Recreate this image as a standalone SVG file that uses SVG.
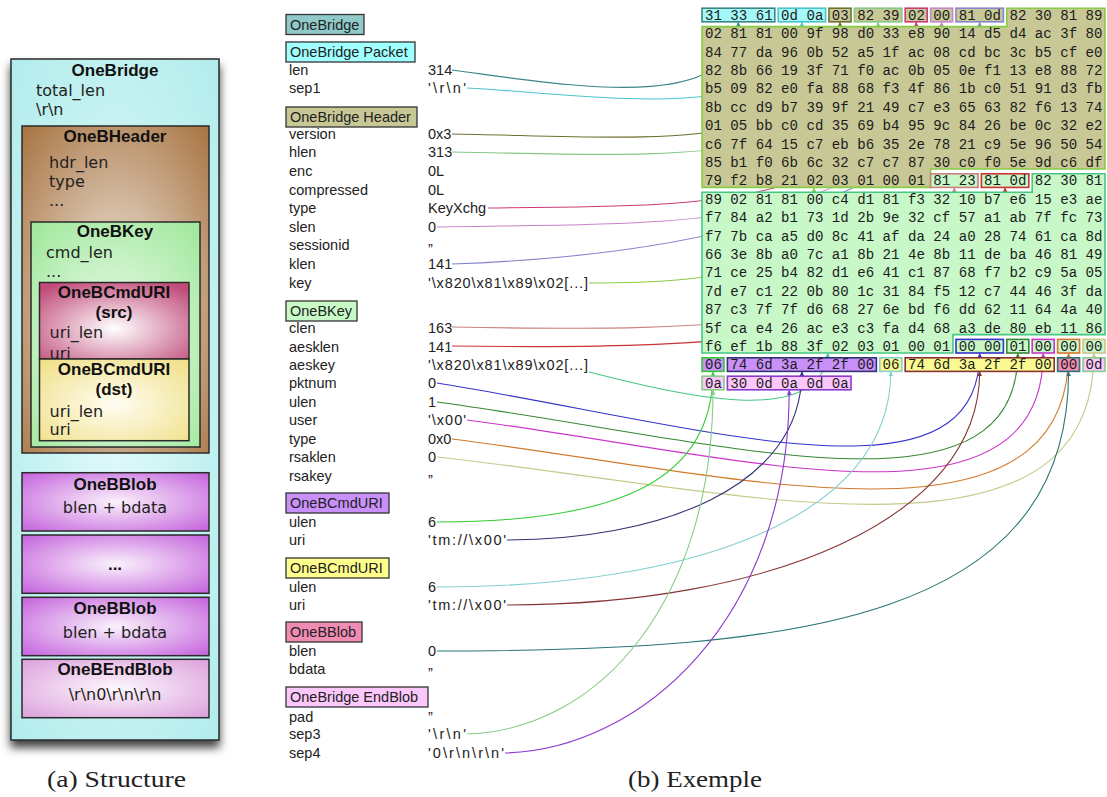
<svg xmlns="http://www.w3.org/2000/svg" width="1107" height="797" viewBox="0 0 1107 797">
<style>
  .ttl{font-family:"Liberation Sans",Arial,sans-serif;font-weight:bold;font-size:17px;text-anchor:middle;fill:#111}
  .bd{font-family:"DejaVu Sans",sans-serif;font-size:16px;fill:#222}
  .bdc{font-family:"DejaVu Sans",sans-serif;font-size:16px;fill:#222;text-anchor:middle}
  .frame{stroke:#2a2a2a;stroke-width:1.5}
  .lbl{font-family:"Liberation Sans",Arial,sans-serif;font-size:14.5px;fill:#222}
  .tag{stroke:#333;stroke-width:1.3}
  .hx{font-family:"Liberation Mono","Courier New",monospace;font-size:14.1px;fill:#1c1c1c}
  .hb{stroke-width:1.6}
  .olive{fill:#c8c896}.grn{fill:#c8f8c8}.cyn{fill:#a4f8f8}.pur{fill:#c890f8}
  .yel{fill:#fafa90}.pnk{fill:#f08cb4}.lpk{fill:#fcc8fc}
  .cap{font-family:"Liberation Serif","Times New Roman",serif;font-size:24px;fill:#222}
  .c{fill:none;stroke-width:1.1}
</style>
<defs>
  <filter id="shadow" x="-10%" y="-5%" width="120%" height="115%">
    <feDropShadow dx="0" dy="7" stdDeviation="5" flood-color="#000" flood-opacity="0.75"/>
  </filter>
  <radialGradient id="gOuter" cx="0.5" cy="0.5" r="0.7"><stop offset="0" stop-color="#e2fafa"/><stop offset="1" stop-color="#b2ecec"/></radialGradient>
  <radialGradient id="gHead" cx="0.5" cy="0.55" r="0.75"><stop offset="0" stop-color="#f2ebe4"/><stop offset="1" stop-color="#a6723f"/></radialGradient>
  <radialGradient id="gKey" cx="0.5" cy="0.55" r="0.7"><stop offset="0" stop-color="#f2fdf2"/><stop offset="1" stop-color="#a2e89e"/></radialGradient>
  <radialGradient id="gSrc" cx="0.5" cy="0.6" r="0.7"><stop offset="0" stop-color="#ffffff"/><stop offset="1" stop-color="#c04a78"/></radialGradient>
  <radialGradient id="gDst" cx="0.5" cy="0.55" r="0.7"><stop offset="0" stop-color="#fffdf2"/><stop offset="1" stop-color="#f0e08a"/></radialGradient>
  <radialGradient id="gBlob" cx="0.5" cy="0.5" r="0.7"><stop offset="0" stop-color="#faf2fc"/><stop offset="1" stop-color="#c462dc"/></radialGradient>
  <radialGradient id="gEnd" cx="0.5" cy="0.5" r="0.7"><stop offset="0" stop-color="#fdf8fd"/><stop offset="1" stop-color="#dca0dc"/></radialGradient>

  <marker id="a-len" viewBox="0 0 6 6" refX="6" refY="3" markerWidth="5" markerHeight="5" markerUnits="userSpaceOnUse" orient="auto"><path d="M0,0L6,3L0,6z" fill="#3a8585"/></marker>
  <marker id="a-sep1" viewBox="0 0 6 6" refX="6" refY="3" markerWidth="5" markerHeight="5" markerUnits="userSpaceOnUse" orient="auto"><path d="M0,0L6,3L0,6z" fill="#4cc4cc"/></marker>
  <marker id="a-ver" viewBox="0 0 6 6" refX="6" refY="3" markerWidth="5" markerHeight="5" markerUnits="userSpaceOnUse" orient="auto"><path d="M0,0L6,3L0,6z" fill="#6f6f2f"/></marker>
  <marker id="a-hlen" viewBox="0 0 6 6" refX="6" refY="3" markerWidth="5" markerHeight="5" markerUnits="userSpaceOnUse" orient="auto"><path d="M0,0L6,3L0,6z" fill="#86c886"/></marker>
  <marker id="a-type" viewBox="0 0 6 6" refX="6" refY="3" markerWidth="5" markerHeight="5" markerUnits="userSpaceOnUse" orient="auto"><path d="M0,0L6,3L0,6z" fill="#cc3a78"/></marker>
  <marker id="a-slen" viewBox="0 0 6 6" refX="6" refY="3" markerWidth="5" markerHeight="5" markerUnits="userSpaceOnUse" orient="auto"><path d="M0,0L6,3L0,6z" fill="#c985c9"/></marker>
  <marker id="a-klen" viewBox="0 0 6 6" refX="6" refY="3" markerWidth="5" markerHeight="5" markerUnits="userSpaceOnUse" orient="auto"><path d="M0,0L6,3L0,6z" fill="#8585cc"/></marker>
  <marker id="a-key" viewBox="0 0 6 6" refX="6" refY="3" markerWidth="5" markerHeight="5" markerUnits="userSpaceOnUse" orient="auto"><path d="M0,0L6,3L0,6z" fill="#88cc44"/></marker>
  <marker id="a-clen" viewBox="0 0 6 6" refX="6" refY="3" markerWidth="5" markerHeight="5" markerUnits="userSpaceOnUse" orient="auto"><path d="M0,0L6,3L0,6z" fill="#cc8080"/></marker>
  <marker id="a-aesklen" viewBox="0 0 6 6" refX="6" refY="3" markerWidth="5" markerHeight="5" markerUnits="userSpaceOnUse" orient="auto"><path d="M0,0L6,3L0,6z" fill="#cc3333"/></marker>
  <marker id="a-aeskey" viewBox="0 0 6 6" refX="6" refY="3" markerWidth="5" markerHeight="5" markerUnits="userSpaceOnUse" orient="auto"><path d="M0,0L6,3L0,6z" fill="#44c884"/></marker>
  <marker id="a-pkt" viewBox="0 0 6 6" refX="6" refY="3" markerWidth="5" markerHeight="5" markerUnits="userSpaceOnUse" orient="auto"><path d="M0,0L6,3L0,6z" fill="#3333cc"/></marker>
  <marker id="a-ulen" viewBox="0 0 6 6" refX="6" refY="3" markerWidth="5" markerHeight="5" markerUnits="userSpaceOnUse" orient="auto"><path d="M0,0L6,3L0,6z" fill="#338833"/></marker>
  <marker id="a-user" viewBox="0 0 6 6" refX="6" refY="3" markerWidth="5" markerHeight="5" markerUnits="userSpaceOnUse" orient="auto"><path d="M0,0L6,3L0,6z" fill="#cc33cc"/></marker>
  <marker id="a-ktype" viewBox="0 0 6 6" refX="6" refY="3" markerWidth="5" markerHeight="5" markerUnits="userSpaceOnUse" orient="auto"><path d="M0,0L6,3L0,6z" fill="#d07a2a"/></marker>
  <marker id="a-rsa" viewBox="0 0 6 6" refX="6" refY="3" markerWidth="5" markerHeight="5" markerUnits="userSpaceOnUse" orient="auto"><path d="M0,0L6,3L0,6z" fill="#c8c88a"/></marker>
  <marker id="a-ulen1" viewBox="0 0 6 6" refX="6" refY="3" markerWidth="5" markerHeight="5" markerUnits="userSpaceOnUse" orient="auto"><path d="M0,0L6,3L0,6z" fill="#33cc33"/></marker>
  <marker id="a-uri1" viewBox="0 0 6 6" refX="6" refY="3" markerWidth="5" markerHeight="5" markerUnits="userSpaceOnUse" orient="auto"><path d="M0,0L6,3L0,6z" fill="#333377"/></marker>
  <marker id="a-ulen2" viewBox="0 0 6 6" refX="6" refY="3" markerWidth="5" markerHeight="5" markerUnits="userSpaceOnUse" orient="auto"><path d="M0,0L6,3L0,6z" fill="#88d0d0"/></marker>
  <marker id="a-uri2" viewBox="0 0 6 6" refX="6" refY="3" markerWidth="5" markerHeight="5" markerUnits="userSpaceOnUse" orient="auto"><path d="M0,0L6,3L0,6z" fill="#883333"/></marker>
  <marker id="a-blen" viewBox="0 0 6 6" refX="6" refY="3" markerWidth="5" markerHeight="5" markerUnits="userSpaceOnUse" orient="auto"><path d="M0,0L6,3L0,6z" fill="#2a7575"/></marker>
  <marker id="a-sep3" viewBox="0 0 6 6" refX="6" refY="3" markerWidth="5" markerHeight="5" markerUnits="userSpaceOnUse" orient="auto"><path d="M0,0L6,3L0,6z" fill="#88cc88"/></marker>
  <marker id="a-sep4" viewBox="0 0 6 6" refX="6" refY="3" markerWidth="5" markerHeight="5" markerUnits="userSpaceOnUse" orient="auto"><path d="M0,0L6,3L0,6z" fill="#8a3acc"/></marker>
</defs>

<rect width="1107" height="797" fill="#ffffff"/>

<!-- (a) nested structure -->
<g id="onebridge">
  <rect class="frame" x="11" y="59" width="208" height="681" fill="url(#gOuter)" filter="url(#shadow)"/>
  <text class="ttl" x="115" y="76">OneBridge</text>
  <text class="bd" x="36" y="96">total_len</text>
  <text class="bd" x="36" y="115">\r\n</text>
</g>
<g id="onebheader">
  <rect class="frame" x="22" y="126" width="187" height="327" fill="url(#gHead)"/>
  <text class="ttl" x="115" y="142">OneBHeader</text>
  <text class="bd" x="49" y="168">hdr_len</text>
  <text class="bd" x="49" y="187">type</text>
  <text class="bd" x="49" y="206">...</text>
</g>
<g id="onebkey">
  <rect class="frame" x="31" y="222" width="169" height="225" fill="url(#gKey)"/>
  <text class="ttl" x="115" y="237">OneBKey</text>
  <text class="bd" x="46" y="258">cmd_len</text>
  <text class="bd" x="46" y="277">...</text>
</g>
<g id="cmduri-src">
  <rect class="frame" x="39.5" y="282.5" width="149.5" height="76.5" fill="url(#gSrc)"/>
  <text class="ttl" x="114" y="298">OneBCmdURI</text>
  <text class="ttl" x="114" y="318">(src)</text>
  <text class="bd" x="49.5" y="338">uri_len</text>
  <text class="bd" x="49.5" y="359">uri</text>
</g>
<g id="cmduri-dst">
  <rect class="frame" x="39.5" y="359" width="149.5" height="81.7" fill="url(#gDst)"/>
  <text class="ttl" x="114" y="375">OneBCmdURI</text>
  <text class="ttl" x="114" y="395">(dst)</text>
  <text class="bd" x="49.5" y="416.5">uri_len</text>
  <text class="bd" x="49.5" y="435">uri</text>
</g>
<g id="blob-first">
  <rect class="frame" x="22" y="472.7" width="187" height="58.3" fill="url(#gBlob)"/>
  <text class="ttl" x="115" y="489.5">OneBBlob</text>
  <text class="bdc" x="115" y="513">blen + bdata</text>
</g>
<g id="blob-more">
  <rect class="frame" x="22" y="535" width="187" height="58.3" fill="url(#gBlob)"/>
  <text class="ttl" x="115" y="570">...</text>
</g>
<g id="blob-last">
  <rect class="frame" x="22" y="597.3" width="187" height="58.4" fill="url(#gBlob)"/>
  <text class="ttl" x="115" y="613.5">OneBBlob</text>
  <text class="bdc" x="115" y="637.5">blen + bdata</text>
</g>
<g id="onebendblob">
  <rect class="frame" x="22" y="659.3" width="187" height="58.4" fill="url(#gEnd)"/>
  <text class="ttl" x="115" y="675">OneBEndBlob</text>
  <text class="bdc" x="115" y="699.5">\r\n0\r\n\r\n</text>
</g>

<g id="captions">
  <text class="cap" x="47" y="787" textLength="139" lengthAdjust="spacingAndGlyphs">(a) Structure</text>
  <text class="cap" x="628" y="787" textLength="134" lengthAdjust="spacingAndGlyphs">(b) Exemple</text>
</g>

<!-- (b) decoded fields -->
<g id="tag-onebridge"><rect class="tag" x="286" y="14.5" width="78" height="20" fill="#8fc9c9"/><text class="lbl" x="290" y="29.5">OneBridge</text></g>
<g id="fields-packet">
  <rect class="tag" x="286" y="42" width="129" height="20" fill="#a0ffff"/><text class="lbl" x="290" y="57">OneBridge Packet</text>
  <text class="lbl" x="289" y="75">len</text><text class="lbl" x="428" y="75">314</text>
  <text class="lbl" x="289" y="93">sep1</text><text class="lbl" x="428" y="93" textLength="38">'\r\n'</text>
</g>
<g id="fields-header">
  <rect class="tag" x="286" y="107" width="131" height="20" fill="#c8c896"/><text class="lbl" x="290" y="122">OneBridge Header</text>
  <text class="lbl" x="289" y="139">version</text><text class="lbl" x="428" y="139">0x3</text>
  <text class="lbl" x="289" y="157">hlen</text><text class="lbl" x="428" y="157">313</text>
  <text class="lbl" x="289" y="176">enc</text><text class="lbl" x="428" y="176">0L</text>
  <text class="lbl" x="289" y="195">compressed</text><text class="lbl" x="428" y="195">0L</text>
  <text class="lbl" x="289" y="213">type</text><text class="lbl" x="428" y="213">KeyXchg</text>
  <text class="lbl" x="289" y="232">slen</text><text class="lbl" x="428" y="232">0</text>
  <text class="lbl" x="289" y="250">sessionid</text><text class="lbl" x="428" y="254">”</text>
  <text class="lbl" x="289" y="269">klen</text><text class="lbl" x="428" y="269">141</text>
  <text class="lbl" x="289" y="288">key</text><text class="lbl" x="428" y="288" textLength="160">'\x820\x81\x89\x02[...]</text>
</g>
<g id="fields-key">
  <rect class="tag" x="286" y="301" width="71" height="20" fill="#c8fac8"/><text class="lbl" x="290" y="316">OneBKey</text>
  <text class="lbl" x="289" y="333">clen</text><text class="lbl" x="428" y="333">163</text>
  <text class="lbl" x="289" y="352">aesklen</text><text class="lbl" x="428" y="352">141</text>
  <text class="lbl" x="289" y="370">aeskey</text><text class="lbl" x="428" y="370" textLength="160">'\x820\x81\x89\x02[...]</text>
  <text class="lbl" x="289" y="388">pktnum</text><text class="lbl" x="428" y="388">0</text>
  <text class="lbl" x="289" y="407">ulen</text><text class="lbl" x="428" y="407">1</text>
  <text class="lbl" x="289" y="425">user</text><text class="lbl" x="428" y="425" textLength="38">'\x00'</text>
  <text class="lbl" x="289" y="444">type</text><text class="lbl" x="428" y="444">0x0</text>
  <text class="lbl" x="289" y="462">rsaklen</text><text class="lbl" x="428" y="462">0</text>
  <text class="lbl" x="289" y="481">rsakey</text><text class="lbl" x="428" y="485">”</text>
</g>
<g id="fields-uri-src">
  <rect class="tag" x="286" y="493" width="103" height="20" fill="#c890f8"/><text class="lbl" x="290" y="508">OneBCmdURI</text>
  <text class="lbl" x="289" y="527">ulen</text><text class="lbl" x="428" y="527">6</text>
  <text class="lbl" x="289" y="545">uri</text><text class="lbl" x="428" y="545" textLength="78">'tm://\x00'</text>
</g>
<g id="fields-uri-dst">
  <rect class="tag" x="286" y="558" width="103" height="20" fill="#ffff8c"/><text class="lbl" x="290" y="573">OneBCmdURI</text>
  <text class="lbl" x="289" y="592">ulen</text><text class="lbl" x="428" y="592">6</text>
  <text class="lbl" x="289" y="610">uri</text><text class="lbl" x="428" y="610" textLength="78">'tm://\x00'</text>
</g>
<g id="fields-blob">
  <rect class="tag" x="286" y="622" width="76" height="20" fill="#f08cb4"/><text class="lbl" x="290" y="637">OneBBlob</text>
  <text class="lbl" x="289" y="656">blen</text><text class="lbl" x="428" y="656">0</text>
  <text class="lbl" x="289" y="674">bdata</text><text class="lbl" x="428" y="678">”</text>
</g>
<g id="fields-endblob">
  <rect class="tag" x="286" y="687" width="142" height="20" fill="#fcc8fc"/><text class="lbl" x="290" y="702">OneBridge EndBlob</text>
  <text class="lbl" x="289" y="722">pad</text><text class="lbl" x="428" y="722">”</text>
  <text class="lbl" x="289" y="739">sep3</text><text class="lbl" x="428" y="739" textLength="38">'\r\n'</text>
  <text class="lbl" x="289" y="758">sep4</text><text class="lbl" x="428" y="758" textLength="76">'0\r\n\r\n'</text>
</g>

<!-- field value to byte range links -->
<g id="connectors">
  <path class="c" stroke="#3a8585" marker-end="url(#a-len)" d="M452,70 C560,84 738.4,118 738.4,21.8"/>
  <path class="c" stroke="#4cc4cc" marker-end="url(#a-sep1)" d="M467,88 C600,95 801.9,130 801.9,21.8"/>
  <path class="c" stroke="#6f6f2f" marker-end="url(#a-ver)" d="M452,134 C650,137 840,160 840,21.8"/>
  <path class="c" stroke="#86c886" marker-end="url(#a-hlen)" d="M452,152 C660,155 878.1,175 878.1,21.8"/>
  <path class="c" stroke="#cc3a78" marker-end="url(#a-type)" d="M488,208 C680,205 916.2,220 916.2,21.8"/>
  <path class="c" stroke="#c985c9" marker-end="url(#a-slen)" d="M437,227 C680,222 941.6,240 941.6,21.8"/>
  <path class="c" stroke="#8585cc" marker-end="url(#a-klen)" d="M452,264 C700,255 979.7,200 979.7,21.8"/>
  <path class="c" stroke="#88cc44" marker-end="url(#a-key)" d="M589,283 C720,283 814,270 814,187.4"/>
  <path class="c" stroke="#cc8080" marker-end="url(#a-clen)" d="M452,327 C720,332 954.3,330 954.3,187.4"/>
  <path class="c" stroke="#cc3333" marker-end="url(#a-aesklen)" d="M452,346 C730,350 1005.1,340 1005.1,187.4"/>
  <path class="c" stroke="#44c884" marker-end="url(#a-aeskey)" d="M589,372 C680,395 820,430 828,353"/>
  <path class="c" stroke="#3333cc" marker-end="url(#a-pkt)" d="M437,383 C700,425 979.7,515 979.7,353"/>
  <path class="c" stroke="#338833" marker-end="url(#a-ulen)" d="M437,402 C720,440 1017.8,530 1017.8,353"/>
  <path class="c" stroke="#cc33cc" marker-end="url(#a-user)" d="M467,420 C740,455 1043.2,545 1043.2,353"/>
  <path class="c" stroke="#d07a2a" marker-end="url(#a-ktype)" d="M452,439 C740,475 1068.6,565 1068.6,353"/>
  <path class="c" stroke="#c8c88a" marker-end="url(#a-rsa)" d="M437,457 C740,490 1094,585 1094,353"/>
  <path class="c" stroke="#33cc33" marker-end="url(#a-ulen1)" d="M437,522 C620,522 713,480 713,371.4"/>
  <path class="c" stroke="#333377" marker-end="url(#a-uri1)" d="M507,540 C655,540 801.9,490 801.9,371.4"/>
  <path class="c" stroke="#88d0d0" marker-end="url(#a-ulen2)" d="M437,587 C687,587 890.8,520 890.8,371.4"/>
  <path class="c" stroke="#883333" marker-end="url(#a-uri2)" d="M507,605 C768,605 979.7,520 979.7,371.4"/>
  <path class="c" stroke="#2a7575" marker-end="url(#a-blen)" d="M437,651 C800,651 1068.6,620 1068.6,371.4"/>
  <path class="c" stroke="#88cc88" marker-end="url(#a-sep3)" d="M467,734 C600,730 713,600 713,389.8"/>
  <path class="c" stroke="#8a3acc" marker-end="url(#a-sep4)" d="M505,753 C640,750 789.2,620 789.2,389.8"/>
</g>

<!-- raw packet bytes -->
<g id="hex-packet">
  <rect class="hb cyn" stroke="#3a8585" x="702" y="8.2" width="72.8" height="13.6"/>
  <rect class="hb cyn" stroke="#4cc4cc" x="778.2" y="8.2" width="47.4" height="13.6"/>
</g>
<g id="hex-header">
  <rect class="hb olive" stroke="#6f6f2f" x="829" y="8.2" width="22" height="13.6"/>
  <rect class="hb olive" stroke="#86c886" x="854.4" y="8.2" width="47.4" height="13.6"/>
  <rect class="hb olive" stroke="#cc3a78" x="905.2" y="8.2" width="22" height="13.6"/>
  <rect class="hb olive" stroke="#c985c9" x="930.6" y="8.2" width="22" height="13.6"/>
  <rect class="hb olive" stroke="#8585cc" x="956" y="8.2" width="47.4" height="13.6"/>
  <polygon class="hb olive" stroke="#88cc44" points="1006.8,8.2 1105,8.2 1105,169 930.6,169 930.6,187.4 702,187.4 702,26.6 1006.8,26.6"/>
</g>
<g id="hex-key">
  <rect class="hb grn" stroke="#cc8080" x="930.6" y="173.8" width="47.4" height="13.6"/>
  <rect class="hb grn" stroke="#cc3333" x="981.4" y="173.8" width="47.4" height="13.6"/>
  <polygon class="hb grn" stroke="#44c884" points="1032.2,173.8 1105,173.8 1105,334.6 953,334.6 953,353 702,353 702,192.2 1032.2,192.2"/>
  <rect class="hb grn" stroke="#3333cc" x="956" y="339.4" width="47.4" height="13.6"/>
  <rect class="hb grn" stroke="#338833" x="1006.8" y="339.4" width="22" height="13.6"/>
  <rect class="hb grn" stroke="#cc33cc" x="1032.2" y="339.4" width="22" height="13.6"/>
  <rect class="hb grn" stroke="#d07a2a" x="1057.6" y="339.4" width="22" height="13.6"/>
  <rect class="hb grn" stroke="#c8c88a" x="1083" y="339.4" width="22" height="13.6"/>
</g>
<g id="hex-uri-src">
  <rect class="hb pur" stroke="#33cc33" x="702" y="357.8" width="22" height="13.6"/>
  <rect class="hb pur" stroke="#333377" x="727.4" y="357.8" width="149" height="13.6"/>
</g>
<g id="hex-uri-dst">
  <rect class="hb yel" stroke="#88d0d0" x="879.8" y="357.8" width="22" height="13.6"/>
  <rect class="hb yel" stroke="#883333" x="905.2" y="357.8" width="149" height="13.6"/>
</g>
<g id="hex-blob">
  <rect class="hb pnk" stroke="#2a7575" x="1057.6" y="357.8" width="22" height="13.6"/>
</g>
<g id="hex-endblob">
  <rect class="hb lpk" stroke="#88cc88" x="1083" y="357.8" width="22" height="13.6"/>
  <rect class="hb lpk" stroke="#88cc88" x="702" y="376.2" width="22" height="13.6"/>
  <rect class="hb lpk" stroke="#8a3acc" x="727.4" y="376.2" width="123.6" height="13.6"/>
</g>
<g id="hex-bytes">
  <text class="hx" x="705" y="19.8">31 33 61 0d 0a 03 82 39 02 00 81 0d 82 30 81 89</text>
  <text class="hx" x="705" y="38.2">02 81 81 00 9f 98 d0 33 e8 90 14 d5 d4 ac 3f 80</text>
  <text class="hx" x="705" y="56.6">84 77 da 96 0b 52 a5 1f ac 08 cd bc 3c b5 cf e0</text>
  <text class="hx" x="705" y="75">82 8b 66 19 3f 71 f0 ac 0b 05 0e f1 13 e8 88 72</text>
  <text class="hx" x="705" y="93.4">b5 09 82 e0 fa 88 68 f3 4f 86 1b c0 51 91 d3 fb</text>
  <text class="hx" x="705" y="111.8">8b cc d9 b7 39 9f 21 49 c7 e3 65 63 82 f6 13 74</text>
  <text class="hx" x="705" y="130.2">01 05 bb c0 cd 35 69 b4 95 9c 84 26 be 0c 32 e2</text>
  <text class="hx" x="705" y="148.6">c6 7f 64 15 c7 eb b6 35 2e 78 21 c9 5e 96 50 54</text>
  <text class="hx" x="705" y="167">85 b1 f0 6b 6c 32 c7 c7 87 30 c0 f0 5e 9d c6 df</text>
  <text class="hx" x="705" y="185.4">79 f2 b8 21 02 03 01 00 01 81 23 81 0d 82 30 81</text>
  <text class="hx" x="705" y="203.8">89 02 81 81 00 c4 d1 81 f3 32 10 b7 e6 15 e3 ae</text>
  <text class="hx" x="705" y="222.2">f7 84 a2 b1 73 1d 2b 9e 32 cf 57 a1 ab 7f fc 73</text>
  <text class="hx" x="705" y="240.6">f7 7b ca a5 d0 8c 41 af da 24 a0 28 74 61 ca 8d</text>
  <text class="hx" x="705" y="259">66 3e 8b a0 7c a1 8b 21 4e 8b 11 de ba 46 81 49</text>
  <text class="hx" x="705" y="277.4">71 ce 25 b4 82 d1 e6 41 c1 87 68 f7 b2 c9 5a 05</text>
  <text class="hx" x="705" y="295.8">7d e7 c1 22 0b 80 1c 31 84 f5 12 c7 44 46 3f da</text>
  <text class="hx" x="705" y="314.2">87 c3 7f 7f d6 68 27 6e bd f6 dd 62 11 64 4a 40</text>
  <text class="hx" x="705" y="332.6">5f ca e4 26 ac e3 c3 fa d4 68 a3 de 80 eb 11 86</text>
  <text class="hx" x="705" y="351">f6 ef 1b 88 3f 02 03 01 00 01 00 00 01 00 00 00</text>
  <text class="hx" x="705" y="369.4">06 74 6d 3a 2f 2f 00 06 74 6d 3a 2f 2f 00 00 0d</text>
  <text class="hx" x="705" y="387.8">0a 30 0d 0a 0d 0a</text>
</g>
</svg>
